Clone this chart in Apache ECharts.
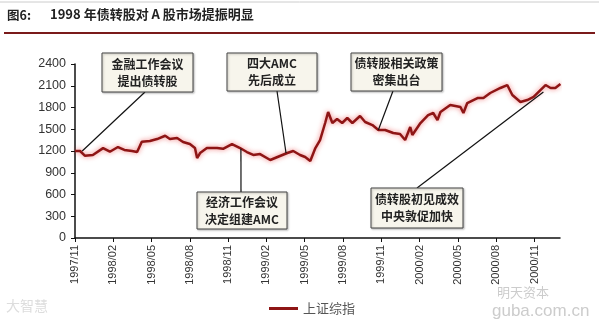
<!DOCTYPE html>
<html><head><meta charset="utf-8">
<script src="https://cdn.jsdelivr.net/npm/echarts@6/dist/echarts.min.js"></script>
<style>html,body{margin:0;padding:0;background:#fff}#c{width:599px;height:323px}</style>
</head><body><div id="c"></div>
<script>
// ---- data ----
const dates = ["1997-11-01","1997-11-13","1997-11-24","1997-12-13","1998-01-07","1998-01-23","1998-02-12","1998-02-27","1998-03-15","1998-03-27","1998-04-08","1998-04-27","1998-05-14","1998-06-03","1998-06-14","1998-07-01","1998-07-15","1998-08-01","1998-08-13","1998-08-18","1998-08-25","1998-09-11","1998-10-05","1998-10-19","1998-11-10","1998-11-29","1998-12-15","1998-12-30","1999-01-16","1999-02-10","1999-02-27","1999-03-20","1999-04-04","1999-04-20","1999-05-02","1999-05-14","1999-05-26","1999-06-07","1999-06-19","1999-06-26","1999-07-06","1999-07-17","1999-07-29","1999-08-11","1999-08-23","1999-09-11","1999-09-23","1999-10-10","1999-10-24","1999-11-10","1999-11-29","1999-12-15","1999-12-27","2000-01-09","2000-01-14","2000-02-03","2000-02-21","2000-03-03","2000-03-13","2000-03-20","2000-04-13","2000-05-07","2000-05-14","2000-05-23","2000-06-17","2000-07-01","2000-07-17","2000-08-11","2000-08-27","2000-09-09","2000-09-28","2000-10-14","2000-10-29","2000-11-15","2000-11-27","2000-12-09","2000-12-20","2001-01-02"];
const shIndex = [1200,1200,1135,1145,1240,1190,1255,1214,1200,1186,1328,1338,1365,1410,1365,1379,1324,1296,1241,1103,1172,1241,1241,1230,1296,1241,1186,1145,1158,1076,1117,1172,1200,1145,1117,1062,1241,1351,1586,1738,1586,1641,1586,1655,1586,1683,1600,1558,1490,1490,1448,1434,1351,1531,1420,1586,1696,1724,1627,1738,1834,1806,1724,1862,1931,1931,2000,2069,2110,1972,1876,1903,1945,2041,2110,2069,2069,2124];
const yTicks = [0,300,600,900,1200,1500,1800,2100,2400];
const seriesName = "上证综指";
const titleNo = "图6:";
const titleText = "1998 年债转股对 A 股市场提振明显";
const notes = [
  {lines:["金融工作会议","提出债转股"], date:"1997-11-18", value:1200},
  {lines:["四大AMC","先后成立"], date:"1999-03-17", value:1172},
  {lines:["债转股相关政策","密集出台"], date:"1999-10-24", value:1490},
  {lines:["经济工作会议","决定组建AMC"], date:"1998-12-01", value:1230},
  {lines:["债转股初见成效","中央敦促加快"], date:"2000-11-22", value:2013}
];
// ---------------------------------------------
function monthOffset(s){const p=s.split("-").map(Number);return (p[0]-1997)*12+(p[1]-11)+(p[2]-1)/30;}
function offLabel(v){const y=1997+Math.floor((10+v)/12);const m=((10+v)%12)+1;return y+"/"+(m<10?"0"+m:m);}
const pts = dates.map((d,i)=>[monthOffset(d), shIndex[i]]);
const xTicks=[];for(let v=0;v<=36;v+=3)xTicks.push(v);

const chart = echarts.init(document.getElementById('c'));
const num = "Liberation Sans, Arial, sans-serif";
const cjk = "'Noto Sans CJK SC', sans-serif";
chart.setOption({
  animation:false,
  backgroundColor:'#fff',
  grid:{left:75,right:39,top:64,bottom:85,containLabel:false},
  legend:{data:[{name:seriesName,icon:'rect'}],left:264,top:297,itemWidth:29,itemHeight:3,itemGap:4,
    textStyle:{fontFamily:cjk,fontSize:13,color:'#555'}},
  xAxis:{type:'value',min:0,max:38,interval:3,splitLine:{show:false},
    axisLine:{lineStyle:{color:'#111',width:1.5}},
    axisTick:{show:true,length:4,lineStyle:{color:'#111'},customValues:xTicks},
    axisLabel:{rotate:90,margin:7,fontFamily:num,fontSize:11,color:'#333',formatter:offLabel,customValues:xTicks}},
  yAxis:{type:'value',min:0,max:2400,interval:300,splitLine:{show:false},
    axisLine:{show:true,lineStyle:{color:'#111',width:1.5}},
    axisTick:{show:true,length:4,lineStyle:{color:'#111'},customValues:yTicks},
    axisLabel:{margin:9,fontFamily:num,fontSize:12.5,color:'#333',customValues:yTicks,formatter:v=>String(v)}},
  series:[{name:seriesName,type:'line',data:pts,showSymbol:false,symbol:'none',
    lineStyle:{color:'#8e1515',width:2.5,shadowColor:'rgba(230,30,30,0.6)',shadowBlur:5},
    itemStyle:{color:'#8e1515'}}]
});

// annotations and title
const boxes=[[102,53,91,39],[227,53,90,38],[351,53,91,38],[197,192,90,37],[371,188,92,40]];
const anchors=[145,277,393,241,417];
const g=[];
g.push({type:'line',shape:{x1:0,y1:2,x2:599,y2:2},style:{stroke:'#ccc',lineWidth:1}});
g.push({type:'text',left:7,top:9,style:{text:titleNo,font:"bold 12.5px "+cjk,fill:'#222'}});
g.push({type:'text',left:50,top:8,style:{text:titleText,font:"bold 13px "+cjk,fill:'#222'}});
g.push({type:'line',shape:{x1:4,y1:33,x2:595,y2:33},style:{stroke:'#7a1a1a',lineWidth:2}});
notes.forEach((n,i)=>{
  const b=boxes[i];
  const p=chart.convertToPixel({gridIndex:0},[monthOffset(n.date),n.value]);
  const below = b[1]>150;
  const ay = below? b[1] : b[1]+b[3];
  g.push({type:'line',z:10,shape:{x1:anchors[i],y1:ay,x2:p[0],y2:p[1]},style:{stroke:'#111',lineWidth:1.2}});
  g.push({type:'rect',z:11,shape:{x:b[0],y:b[1],width:b[2],height:b[3]},
    style:{fill:'#f7f5ec',stroke:'#444',lineWidth:1,shadowColor:'rgba(0,0,0,0.25)',shadowBlur:2,shadowOffsetX:1,shadowOffsetY:1}});
  g.push({type:'text',z:12,x:b[0]+b[2]/2,y:b[1]+b[3]/2,
    style:{text:n.lines.join("\n"),font:"bold 12px "+cjk,fill:'#222',align:'center',verticalAlign:'middle',lineHeight:17}});
});
// faint watermarks
g.push({type:'text',left:6,top:299,style:{text:"大智慧",font:"14px "+cjk,fill:'#ddd'}});
g.push({type:'text',left:497,top:286,style:{text:"明天资本",font:"13px "+cjk,fill:'#ccc'}});
g.push({type:'text',left:492,top:303,style:{text:"guba.com.cn",font:"17px "+num,fill:'#ccc'}});
chart.setOption({graphic:g});
</script></body></html>
